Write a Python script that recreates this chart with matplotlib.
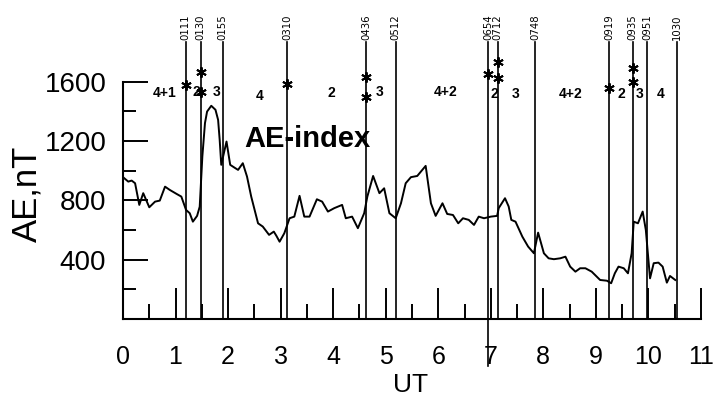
import matplotlib.pyplot as plt
from matplotlib.ticker import MultipleLocator, FixedLocator

# AE index trace (UT hours, nT)
ut = [0.00, 0.10, 0.165, 0.23, 0.31, 0.385, 0.50, 0.61, 0.70, 0.80,
      0.89, 1.02, 1.11, 1.20, 1.27, 1.33, 1.41, 1.46, 1.51, 1.56,
      1.60, 1.68, 1.76, 1.81, 1.84, 1.87, 1.92, 1.97, 2.04, 2.14,
      2.19, 2.28, 2.36, 2.44, 2.57, 2.66, 2.78, 2.87, 2.92, 2.98,
      3.07, 3.17, 3.26, 3.36, 3.45, 3.55, 3.69, 3.79, 3.90, 4.02,
      4.17, 4.24, 4.36, 4.47, 4.59, 4.65, 4.76, 4.88, 4.97, 5.07,
      5.19, 5.29, 5.38, 5.48, 5.60, 5.76, 5.86, 5.95, 6.08, 6.17,
      6.28, 6.38, 6.47, 6.58, 6.68, 6.77, 6.87, 7.00, 7.12, 7.15,
      7.27, 7.34, 7.39, 7.47, 7.60, 7.71, 7.82, 7.90, 8.01, 8.10,
      8.20, 8.32, 8.42, 8.51, 8.61, 8.70, 8.80, 8.92, 9.08, 9.21,
      9.29, 9.36, 9.43, 9.53, 9.61, 9.68, 9.72, 9.80, 9.89, 9.95,
      10.03, 10.10, 10.19, 10.27, 10.35, 10.41, 10.51]
ae = [956, 926, 933, 915, 769, 848, 753, 791, 798, 892,
      870, 843, 825, 735, 713, 656, 695, 757, 1095, 1320,
      1398, 1437, 1410, 1342, 1207, 1039, 1118, 1196, 1039, 1016,
      1005, 1050, 960, 825, 645, 623, 567, 589, 560, 521,
      578, 679, 690, 830, 690, 690, 807, 791, 724, 747,
      769, 679, 690, 612, 713, 825, 964, 848, 881, 713,
      679, 780, 915, 956, 964, 1032, 780, 695, 780, 708,
      701, 645, 679, 668, 634, 690, 679, 690, 695, 747,
      814, 758, 668, 656, 555, 488, 443, 582, 443, 409,
      403, 409, 420, 353, 319, 342, 342, 319, 263, 258,
      241, 308, 353, 342, 308, 443, 656, 645, 724, 600,
      274, 376, 380, 353, 245, 290, 263]

# event lines (position on the UT axis as drawn, and their time labels)
event_pos = [1.19, 1.48, 1.90, 3.12, 4.63, 5.19, 6.95, 7.13, 7.84,
             9.25, 9.70, 9.97, 10.54]
event_lbl = ['0111', '0130', '0155', '0310', '0436', '0512', '0654',
             '0712', '0748', '0919', '0935', '0951', '1030']

# asterisk marks on the event lines
star_x = [1.19, 1.48, 1.48, 3.12, 4.63, 4.63, 6.95, 7.13, 7.13, 9.25, 9.70, 9.70]
star_y = [1578, 1666, 1531, 1585, 1632, 1497, 1653, 1734, 1625, 1558, 1693, 1599]

# stage numbers written across the top
stage_x = [0.80, 1.40, 1.78, 2.60, 3.97, 4.88, 6.13, 7.06, 7.48, 8.52, 9.49, 9.83, 10.23]
stage_y = [1524, 1530, 1530, 1504, 1524, 1531, 1531, 1518, 1518, 1518, 1518, 1518, 1518]
stage_txt = ['4+1', '2', '3', '4', '2', '3', '4+2', '2', '3', '4+2', '2', '3', '4']

plt.rcParams['font.family'] = ['Liberation Sans', 'DejaVu Sans']

fig = plt.figure(figsize=(7.16, 4.01), dpi=100)
ax = fig.add_axes([123 / 716, 0.2045, 578 / 716, 0.703])
ax.set_xlim(0, 11)
ax.set_ylim(0, 1900)

ax.plot(ut, ae, color='black', lw=1.4)

line_top = 1868
for xp, lb in zip(event_pos, event_lbl):
    bottom = -320 if lb == '0654' else 0
    ax.plot([xp, xp], [bottom, line_top], color='black', lw=1.2, clip_on=False)
    ax.text(xp, line_top + 15, lb, rotation=90, ha='center', va='bottom',
            fontsize=7.3, family='DejaVu Sans')

ax.plot(star_x, star_y, linestyle='none', marker=(6, 2, 0), markersize=7.5,
        markeredgewidth=1.4, color='black')

for xs, ys, t in zip(stage_x, stage_y, stage_txt):
    ax.text(xs, ys, t, ha='center', va='center', fontsize=10, fontweight='bold')

ax.text(2.31, 1160, 'AE-index', ha='left', va='baseline', fontsize=21,
        fontweight='bold')

for s in ['top', 'right']:
    ax.spines[s].set_visible(False)
ax.spines['left'].set_bounds(0, 1600)
ax.spines['bottom'].set_bounds(0, 11)
ax.spines['left'].set_linewidth(1.5)
ax.spines['bottom'].set_linewidth(1.5)

ax.xaxis.set_major_locator(MultipleLocator(1))
ax.xaxis.set_minor_locator(MultipleLocator(0.5))
ax.yaxis.set_major_locator(FixedLocator([400, 800, 1200, 1600]))
ax.yaxis.set_minor_locator(FixedLocator([200, 600, 1000, 1400]))
ax.tick_params(axis='x', which='major', direction='in', length=22, width=1.4,
               labelsize=18, pad=19)
ax.tick_params(axis='x', which='minor', direction='in', length=11, width=1.4)
ax.tick_params(axis='y', which='major', direction='in', length=18, width=1.4,
               labelsize=20, pad=12)
ax.tick_params(axis='y', which='minor', direction='in', length=9, width=1.4)

fig.text(27 / 716, 1 - 194 / 401, 'AE,nT', rotation=90, ha='center',
         va='center', fontsize=25)
fig.text(411 / 716, 1 - 385 / 401, 'UT', ha='center', va='center', fontsize=19)

fig.savefig('out.png', dpi=100)
